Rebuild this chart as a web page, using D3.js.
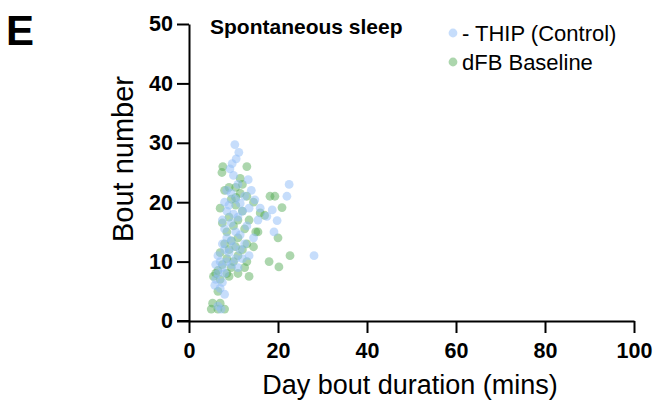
<!DOCTYPE html>
<html>
<head>
<meta charset="utf-8">
<script src="https://cdn.jsdelivr.net/npm/d3@7"></script>
<style>
  html, body { margin: 0; padding: 0; background: #fff; }
  svg { display: block; font-family: "Liberation Sans", Arial, sans-serif; }
</style>
</head>
<body>
<svg id="chart" width="661" height="405"></svg>
<script>
// Day bout duration (mins) and bout number per fly
const controlDuration = [10.3, 11.2, 10.6, 9.7, 9.2, 13.3, 22.5, 22.0, 14.8, 18.7, 17.5, 19.8, 19.1, 28.1,
  8.5, 9.5, 10.5, 8.0, 9.0, 11.5, 12.5, 13.5, 8.5, 10.0, 11.0, 12.0, 7.5, 9.5, 13.0, 8.0, 10.5, 11.5,
  8.5, 9.5, 12.5, 7.5, 10.0, 11.5, 14.5, 15.5, 8.0, 6.5, 9.0, 10.5, 7.0, 8.5, 12.0, 13.5, 6.0, 9.5,
  7.5, 11.0, 6.5, 8.0, 6.0, 7.5, 5.8, 7.0, 8.0, 7.2, 6.5, 16.0, 14.0, 11.0, 10.0];
const controlBouts = [29.7, 28.4, 27.3, 26.5, 25.6, 23.8, 23.0, 21.0, 20.4, 18.7, 17.6, 16.9, 15.0, 11.0,
  22.0, 21.5, 20.5, 20.0, 19.5, 19.8, 21.0, 19.0, 18.5, 18.0, 17.5, 18.5, 17.0, 16.5, 16.0, 15.5, 15.0, 14.5,
  14.0, 13.5, 13.0, 13.0, 12.5, 12.0, 14.0, 17.0, 12.0, 11.0, 11.5, 10.5, 10.0, 10.0, 10.5, 11.0, 9.5, 9.5,
  9.0, 9.0, 8.0, 8.0, 7.0, 6.5, 6.0, 5.5, 4.5, 2.0, 2.5, 19.0, 22.0, 23.0, 24.5];

const dfbDuration = [7.6, 7.4, 13.0, 12.0, 10.5, 8.0, 11.5, 13.0, 18.2, 19.3, 9.5, 14.5, 10.5, 7.0, 20.9,
  12.0, 16.0, 17.0, 9.0, 11.0, 13.5, 7.5, 10.0, 12.5, 15.0, 8.5, 15.5, 20.0, 11.0, 9.5, 8.0, 13.0, 14.5,
  10.5, 9.0, 12.0, 7.0, 11.0, 22.7, 8.5, 13.0, 18.0, 20.2, 10.0, 7.5, 9.5, 12.5, 6.5, 8.5, 11.0, 6.0,
  13.5, 7.0, 5.5, 9.0, 6.5, 5.3, 7.0, 8.0, 5.0, 6.5, 10.5, 9.0, 11.5];
const dfbBouts = [26.0, 25.0, 26.0, 23.0, 22.5, 22.0, 21.5, 21.0, 21.0, 21.0, 20.5, 20.0, 19.5, 19.0, 19.1,
  18.5, 18.2, 17.8, 17.5, 17.0, 17.0, 16.5, 16.0, 15.5, 15.0, 15.0, 15.0, 14.0, 14.0, 13.5, 13.0, 13.0, 12.5,
  12.5, 12.0, 12.0, 11.5, 11.0, 11.0, 10.5, 10.0, 10.0, 9.1, 10.0, 9.5, 9.0, 9.0, 8.5, 8.0, 8.0, 8.0,
  7.5, 7.0, 7.5, 7.5, 5.0, 3.0, 3.0, 2.0, 2.0, 2.0, 20.8, 22.5, 24.0];

const xTicks = [0, 20, 40, 60, 80, 100];
const yTicks = [0, 10, 20, 30, 40, 50];

const seriesNames = ["- THIP (Control)", "dFB Baseline"];
const seriesColors = ["#92bdf7", "#4aa64c"];
const seriesOpacity = [0.52, 0.46];

const svg = d3.select("#chart");
const x = d3.scaleLinear().domain([0, 100]).range([189, 634]);
const y = d3.scaleLinear().domain([0, 50]).range([321, 24]);

// points: dFB drawn first, control on top
const groups = [
  { color: seriesColors[1], op: seriesOpacity[1], xs: dfbDuration, ys: dfbBouts },
  { color: seriesColors[0], op: seriesOpacity[0], xs: controlDuration, ys: controlBouts }
];
groups.forEach(g => {
  svg.append("g").selectAll("circle")
    .data(g.xs.map((v, i) => [v, g.ys[i]]))
    .join("circle")
    .attr("cx", d => x(d[0]))
    .attr("cy", d => y(d[1]))
    .attr("r", 4.4)
    .attr("fill", g.color)
    .attr("fill-opacity", g.op);
});

// axes
const xAxis = svg.append("g").attr("transform", "translate(0,321)")
  .call(d3.axisBottom(x).tickValues(xTicks).tickSize(12).tickPadding(10).tickSizeOuter(0));
const yAxis = svg.append("g").attr("transform", "translate(189,0)")
  .call(d3.axisLeft(y).tickValues(yTicks).tickSize(12).tickPadding(4).tickSizeOuter(0));
[xAxis, yAxis].forEach(a => {
  a.select(".domain").attr("stroke", "#000").attr("stroke-width", 2);
  a.selectAll(".tick line").attr("stroke", "#000").attr("stroke-width", 2);
  a.selectAll(".tick text").attr("fill", "#000").attr("font-size", 21.5).attr("font-weight", "bold")
    .attr("font-family", "'Liberation Sans', Arial, sans-serif");
});
// extend x axis line to meet the y axis tick at zero
svg.append("line").attr("x1", 177).attr("x2", 190).attr("y1", 321).attr("y2", 321)
  .attr("stroke", "#000").attr("stroke-width", 2);

// axis titles
svg.append("text").attr("x", 410).attr("y", 394).attr("text-anchor", "middle")
  .attr("font-size", 27).text("Day bout duration (mins)");
svg.append("text").attr("transform", "translate(133,159) rotate(-90)").attr("text-anchor", "middle")
  .attr("font-size", 29).text("Bout number");

// panel letter and title
svg.append("text").attr("x", 6).attr("y", 45).attr("font-size", 42).attr("font-weight", "bold").text("E");
svg.append("text").attr("x", 210).attr("y", 34).attr("font-size", 21).attr("font-weight", "bold")
  .text("Spontaneous sleep");

// legend
const legend = svg.append("g");
seriesNames.forEach((name, i) => {
  const ly = 33 + i * 29;
  legend.append("circle").attr("cx", 453).attr("cy", ly).attr("r", 4.4)
    .attr("fill", seriesColors[i]).attr("fill-opacity", seriesOpacity[i]);
  legend.append("text").attr("x", 462).attr("y", ly + 8).attr("font-size", 22).text(name);
});
</script>
</body>
</html>
